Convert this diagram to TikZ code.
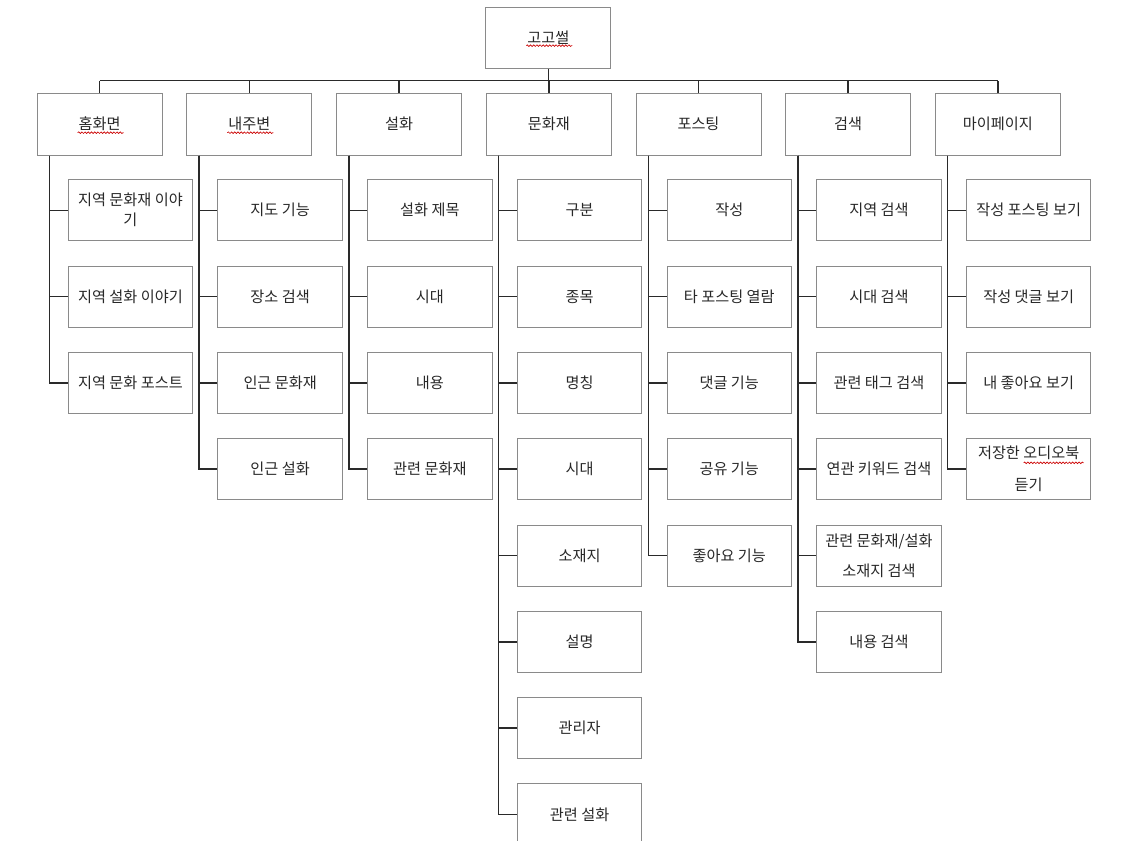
\documentclass[tikz,border=0pt]{standalone}
\usepackage{fontspec}
\setmainfont{Noto Sans CJK KR}
\usetikzlibrary{calc,decorations.pathmorphing}
\definecolor{boxgray}{HTML}{8A8A8A}
\definecolor{connblack}{HTML}{2A2A2A}
\definecolor{textgray}{HTML}{282828}
\begin{document}
\begin{tikzpicture}[x=0.75pt,y=-0.75pt,
  nbox/.style={draw=boxgray,line width=0.75pt,inner sep=0pt,align=center,anchor=north west,
    font=\fontsize{11.4}{14}\selectfont,text=textgray},
  rootbox/.style={nbox,minimum width=93.75pt,minimum height=45.5pt},
  parbox/.style={nbox,minimum width=93.75pt,minimum height=46.5pt},
  chbox/.style={nbox,minimum width=93.4pt,minimum height=45.75pt},
  conn/.style={draw=connblack,line width=1.1pt},
  wavy/.style={draw=red!80!black,line width=0.5pt,decorate,
    decoration={snake,segment length=2.4pt,amplitude=0.6pt}}]
\path[use as bounding box,fill=white] (0,0) rectangle (1133,840);
\clip (0,0) rectangle (1133,840);

% root
\node[rootbox] (root) at (485.3,7.3) {고고썰};
% level 1
\node[parbox] (pa) at (36.7,92.7) {홈화면};
\node[parbox] (pb) at (186.4,92.7) {내주변};
\node[parbox] (pc) at (336.1,92.7) {설화};
\node[parbox] (pd) at (485.8,92.7) {문화재};
\node[parbox] (pe) at (635.5,92.7) {포스팅};
\node[parbox] (pf) at (785.2,92.7) {검색};
\node[parbox] (pg) at (934.9,92.7) {마이페이지};

% 홈화면
\node[chbox] (a1) at (67.7,179.3) {지역 문화재 이야\\[1pt]기};
\node[chbox] (a2) at (67.7,265.6) {지역 설화 이야기};
\node[chbox] (a3) at (67.7,351.9) {지역 문화 포스트};
% 내주변
\node[chbox] (b1) at (217.4,179.3) {지도 기능};
\node[chbox] (b2) at (217.4,265.6) {장소 검색};
\node[chbox] (b3) at (217.4,351.9) {인근 문화재};
\node[chbox] (b4) at (217.4,438.2) {인근 설화};
% 설화
\node[chbox] (c1) at (367.1,179.3) {설화 제목};
\node[chbox] (c2) at (367.1,265.6) {시대};
\node[chbox] (c3) at (367.1,351.9) {내용};
\node[chbox] (c4) at (367.1,438.2) {관련 문화재};
% 문화재
\node[chbox] (d1) at (516.8,179.3) {구분};
\node[chbox] (d2) at (516.8,265.6) {종목};
\node[chbox] (d3) at (516.8,351.9) {명칭};
\node[chbox] (d4) at (516.8,438.2) {시대};
\node[chbox] (d5) at (516.8,524.5) {소재지};
\node[chbox] (d6) at (516.8,610.8) {설명};
\node[chbox] (d7) at (516.8,697.1) {관리자};
\node[chbox] (d8) at (516.8,783.4) {관련 설화};
% 포스팅
\node[chbox] (e1) at (666.5,179.3) {작성};
\node[chbox] (e2) at (666.5,265.6) {타 포스팅 열람};
\node[chbox] (e3) at (666.5,351.9) {댓글 기능};
\node[chbox] (e4) at (666.5,438.2) {공유 기능};
\node[chbox] (e5) at (666.5,524.5) {좋아요 기능};
% 검색
\node[chbox] (f1) at (816.2,179.3) {지역 검색};
\node[chbox] (f2) at (816.2,265.6) {시대 검색};
\node[chbox] (f3) at (816.2,351.9) {관련 태그 검색};
\node[chbox] (f4) at (816.2,438.2) {연관 키워드 검색};
\node[chbox] (f5) at (816.2,524.5) {관련 문화재/설화\\[8.5pt]소재지 검색};
\node[chbox] (f6) at (816.2,610.8) {내용 검색};
% 마이페이지
\node[chbox] (g1) at (965.9,179.3) {작성 포스팅 보기};
\node[chbox] (g2) at (965.9,265.6) {작성 댓글 보기};
\node[chbox] (g3) at (965.9,351.9) {내 좋아요 보기};
\node[chbox] (g4) at (965.9,438.2) {저장한 오디오북\\[10pt]듣기};

% bus
\coordinate (bus) at (0,80.5);
\draw[conn] (root.south) -- (root.south |- bus);
\draw[conn] (pa.north |- bus) -- (pg.north |- bus);
\foreach \p in {a,b,c,d,e,f,g}
  \draw[conn] (p\p.north) -- (p\p.north |- bus);

% branches
\foreach \p/\n in {a/3,b/4,c/4,d/8,e/5,f/6,g/4}{
  \coordinate (v\p) at ($(p\p.south west)+(12.8,0)$);
  \foreach \k in {1,...,\n}
    \draw[conn] (v\p) |- (\p\k.west);
}

% spell-check underlines
\draw[wavy] ($(root.center)+(-22,7.5)$) -- ++(46,0);
\draw[wavy] ($(pa.center)+(-22,8.5)$) -- ++(46,0);
\draw[wavy] ($(pb.center)+(-22,8.5)$) -- ++(46,0);
\draw[wavy] ($(g4.center)+(-5,-6.4)$) -- ++(60,0);
\end{tikzpicture}
\end{document}
